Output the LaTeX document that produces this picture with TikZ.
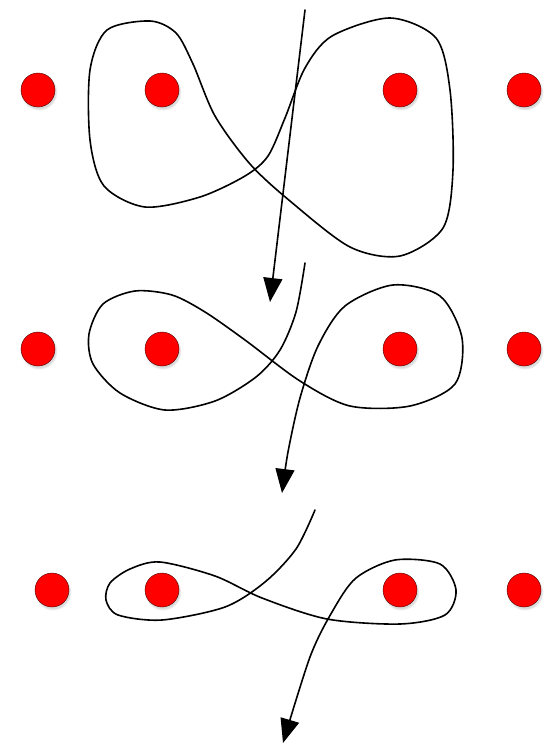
\documentclass[tikz,border=0pt]{standalone}
\usetikzlibrary{arrows.meta,shadows}
\tikzset{
  puncture/.style={circle,fill=red,draw=red!30!black,line width=0.4pt,
    minimum size=34pt,inner sep=0pt,
    circular drop shadow={shadow xshift=0.8pt,shadow yshift=-1.8pt,opacity=0.3}},
  strand/.style={line width=1.6pt,line cap=round,line join=round},
  pull/.style={strand,-{Triangle[length=24pt,width=19pt]}}
}
\begin{document}
\begin{tikzpicture}[x=1pt,y=-1pt]
\useasboundingbox (0,0) rectangle (555,744);
\foreach \r/\y/\a in {1/90/38, 2/349/38, 3/590/52} {
  \foreach \c/\x in {1/\a, 2/162, 3/400, 4/524}
    \node[puncture] (p\r\c) at (\x,\y) {};
}
% first row: closed figure eight and the straight pull
\draw[strand] plot[smooth cycle] coordinates {
  (150,21) (107,30) (90,70) (90,140) (104,186) (145,207) (200,197)
  (245,176) (268,156) (285,118) (305,68) (332,36) (390,18) (436,38)
  (450,90) (453,170) (443,228) (400,256) (350,247) (290,201) (250,164)
  (215,116) (193,64) (176,33)};
\coordinate (tail1) at (305,10);
\coordinate (head1) at (270,302);
\draw[pull] (tail1) -- (head1);
% second row
\draw[pull] plot[smooth] coordinates {
  (305,263) (296,312) (280,350) (256,377) (215,401) (165,410) (120,393)
  (93,364) (89,334) (103,304) (135,291) (172,295) (205,312) (245,340)
  (300,381) (350,406) (410,406) (455,384) (462,338) (440,296) (393,285)
  (345,306) (318,346) (300,398) (288,452) (282,493)};
% third row
\draw[pull] plot[smooth] coordinates {
  (315,510) (296,549) (265,582) (225,607) (162,620) (118,615) (106,600)
  (110,583) (130,569) (160,562) (215,576) (262,598) (327,619) (400,624)
  (445,615) (456,590) (440,564) (395,560) (356,578) (332,612) (310,657)
  (283,743)};
\end{tikzpicture}
\end{document}
